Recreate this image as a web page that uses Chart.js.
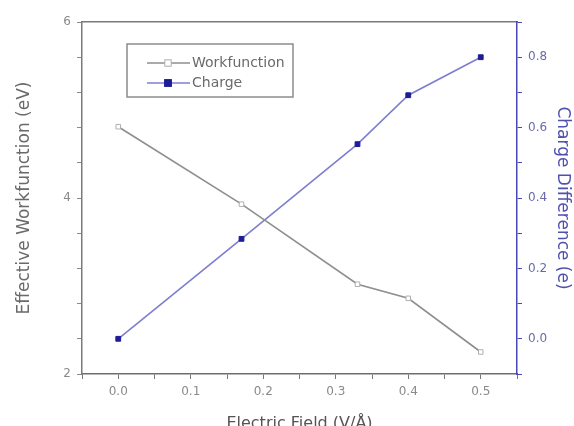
<!DOCTYPE html>
<html>
<head>
<meta charset="utf-8">
<script src="https://cdn.jsdelivr.net/npm/chart.js@4"></script>
<style>
html,body{margin:0;padding:0;background:#fff;}
#wrap{width:574px;height:426px;}
</style>
</head>
<body>
<div id="wrap"><canvas id="c" width="574" height="426"></canvas></div>
<script>
// ---- data ----
const fieldValues = [0.0, 0.17, 0.33, 0.40, 0.50];          // Electric Field (V/Å)
const workfunctionValues = [4.81, 3.93, 3.02, 2.86, 2.25];   // Effective Workfunction (eV)
const chargeValues = [0.0, 0.284, 0.553, 0.692, 0.80];      // Charge Difference (e)
const seriesNames = ['Workfunction', 'Charge'];
const xTickLabels = ['0.0', '0.1', '0.2', '0.3', '0.4', '0.5'];
const leftTickLabels = ['2', '4', '6'];
const rightTickLabels = ['0.0', '0.2', '0.4', '0.6', '0.8'];

const FONT = "'DejaVu Sans', 'Liberation Sans', Arial, sans-serif";
const BLUE = '#4848b0';

function pts(xs, ys){ return xs.map((x,i)=>({x:x, y:ys[i]})); }
function labelFrom(list, v){
  for (const l of list) { if (Math.abs(parseFloat(l) - v) < 1e-6) return l; }
  return '';
}

const legendPlugin = {
  id: 'boxLegend',
  afterDraw(chart){
    const ctx = chart.ctx;
    const x0 = 127, y0 = 44, w = 166, h = 53;
    ctx.save();
    ctx.strokeStyle = '#8c8c8c';
    ctx.lineWidth = 1.5;
    ctx.strokeRect(x0, y0, w, h);
    const rows = [63, 83];
    chart.data.datasets.forEach((ds, i) => {
      const y = rows[i];
      ctx.strokeStyle = ds.borderColor;
      ctx.lineWidth = ds.borderWidth;
      ctx.beginPath(); ctx.moveTo(147, y); ctx.lineTo(190, y); ctx.stroke();
      const r = ds.pointRadius;
      ctx.fillStyle = ds.pointBackgroundColor;
      ctx.strokeStyle = ds.pointBorderColor;
      ctx.lineWidth = 1;
      ctx.fillRect(168 - r, y - r, 2*r, 2*r);
      ctx.strokeRect(168 - r, y - r, 2*r, 2*r);
      ctx.fillStyle = '#6a6a6a';
      ctx.font = '14px ' + FONT;
      ctx.textBaseline = 'middle';
      ctx.textAlign = 'left';
      ctx.fillText(ds.label, 192, y);
    });
    ctx.restore();
  }
};

new Chart(document.getElementById('c'), {
  type: 'scatter',
  data: {
    datasets: [
      {
        label: seriesNames[0],
        data: pts(fieldValues, workfunctionValues),
        yAxisID: 'y',
        showLine: true,
        borderColor: '#8e8e8e',
        borderWidth: 1.6,
        pointStyle: 'rect',
        pointRadius: 3.2,
        pointBackgroundColor: '#ffffff',
        pointBorderColor: '#b0b0b0',
        pointBorderWidth: 1
      },
      {
        label: seriesNames[1],
        data: pts(fieldValues, chargeValues),
        yAxisID: 'y2',
        showLine: true,
        borderColor: '#7e7ed0',
        borderWidth: 1.6,
        pointStyle: 'rect',
        pointRadius: 3.4,
        pointBackgroundColor: '#1c1c96',
        pointBorderColor: '#1c1c96',
        pointBorderWidth: 1
      }
    ]
  },
  options: {
    responsive: false,
    animation: false,
    layout: { padding: { top: 22, left: 0, right: 0, bottom: 0 } },
    plugins: { legend: { display: false }, tooltip: { enabled: false } },
    scales: {
      x: {
        type: 'linear', position: 'bottom',
        min: -0.05, max: 0.55,
        afterBuildTicks(s){ const t=[]; for(let i=-1;i<=11;i++) t.push({value: i*0.05}); s.ticks = t; },
        afterFit(s){ s.height = 52; },
        border: { color: '#6e6e6e', width: 1.5 },
        grid: { drawOnChartArea: false, tickLength: 5, color: '#777', tickColor: '#777' },
        ticks: { autoSkip: false, maxRotation: 0, padding: 6, color: '#8a8a8a',
          font: { family: FONT, size: 12 },
          callback: (v) => labelFrom(xTickLabels, v) },
        title: { display: true, text: 'Electric Field (V/Å)', color: '#555',
          font: { family: FONT, size: 16 }, padding: { top: 0, bottom: -7 } }
      },
      xTop: {
        type: 'linear', position: 'top',
        min: -0.05, max: 0.55,
        afterFit(s){ s.height = 0; },
        border: { color: '#7a7a7a', width: 1.5 },
        grid: { drawOnChartArea: false, drawTicks: false },
        ticks: { display: false }
      },
      y: {
        type: 'linear', position: 'left',
        min: 2, max: 6,
        afterBuildTicks(s){ const t=[]; for(let i=0;i<=10;i++) t.push({value: 2 + i*0.4}); s.ticks = t; },
        afterFit(s){ s.width = 82; },
        border: { color: '#7a7a7a', width: 1.5 },
        grid: { drawOnChartArea: false, tickLength: 5, color: '#888', tickColor: '#888' },
        ticks: { autoSkip: false, padding: 6, color: '#8a8a8a',
          font: { family: FONT, size: 12 },
          callback: (v) => labelFrom(leftTickLabels, v) },
        title: { display: true, text: 'Effective Workfunction (eV)', color: '#6a6a6a',
          font: { family: FONT, size: 17 }, padding: { top: 14, bottom: 0 } }
      },
      y2: {
        type: 'linear', position: 'right',
        min: -0.1, max: 0.9,
        afterBuildTicks(s){ const t=[]; for(let i=-1;i<=9;i++) t.push({value: i*0.1}); s.ticks = t; },
        afterFit(s){ s.width = 57; },
        border: { color: BLUE, width: 1.5 },
        grid: { drawOnChartArea: false, tickLength: 5, color: BLUE, tickColor: BLUE },
        ticks: { autoSkip: false, padding: 6, color: '#6a6aaa',
          font: { family: FONT, size: 12 },
          callback: (v) => labelFrom(rightTickLabels, v) },
        title: { display: true, text: 'Charge Difference (e)', color: '#5050b0',
          font: { family: FONT, size: 17 }, padding: { top: 1, bottom: 0 } }
      }
    }
  },
  plugins: [legendPlugin]
});
</script>
</body>
</html>
